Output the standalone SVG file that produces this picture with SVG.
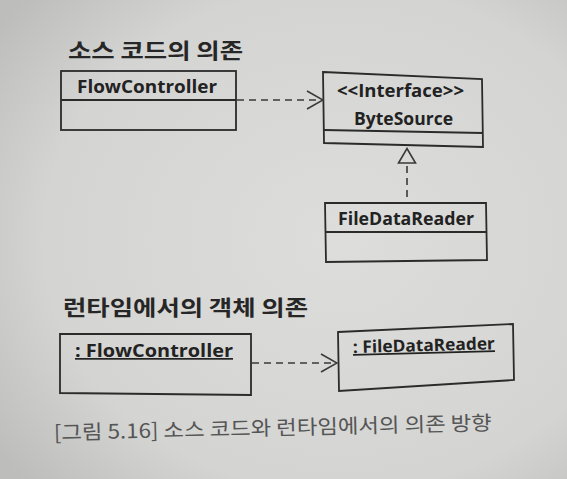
<svg xmlns="http://www.w3.org/2000/svg" width="567" height="479" viewBox="0 0 567 479">
  <defs>
    <radialGradient id="paper" cx="0.6" cy="0.5" r="0.75">
      <stop offset="0" stop-color="#dddddb"/>
      <stop offset="0.7" stop-color="#d4d4d2"/>
      <stop offset="1" stop-color="#bdbdbb"/>
    </radialGradient>
    <marker id="open" viewBox="0 0 18 20" refX="17" refY="10" markerWidth="18" markerHeight="20" markerUnits="userSpaceOnUse" orient="auto">
      <path d="M1,1 L17,10 L1,19" fill="none" stroke="#3a3a3a" stroke-width="1.6" stroke-dasharray="none"/>
    </marker>
    <marker id="tri" viewBox="0 0 17 20" refX="1" refY="10" markerWidth="17" markerHeight="20" markerUnits="userSpaceOnUse" orient="auto">
      <path d="M1,1.5 L15.5,10 L1,18.5 Z" fill="none" stroke="#3a3a3a" stroke-width="1.6" stroke-dasharray="none"/>
    </marker>
  </defs>
  <style>
    .box { fill: none; stroke: #2b2b2b; stroke-width: 1.8; stroke-linejoin: miter; }
    .lbl { font-family: "Open Sans", "Noto Sans", "Liberation Sans", sans-serif; font-weight: 700; font-size: 17px; fill: #222; }
    .ko { font-family: "Noto Sans CJK KR", "Noto Sans", sans-serif; font-weight: 700; font-size: 21px; fill: #262626; }
    .cap { font-family: "Noto Sans CJK KR", "Noto Sans", sans-serif; font-weight: 400; font-size: 20px; fill: #555; }
    .dep { fill: none; stroke: #3a3a3a; stroke-width: 1.6; stroke-dasharray: 7 5; }
  </style>

  <rect x="0" y="0" width="567" height="479" fill="url(#paper)"/>

  <text id="title-source" class="ko" x="68" y="58" textLength="175" lengthAdjust="spacingAndGlyphs">소스 코드의 의존</text>

  <g id="FlowController">
    <rect class="box" x="61" y="71" width="175" height="59"/>
    <line class="box" x1="61" y1="100" x2="236" y2="100"/>
    <text class="lbl" x="77" y="93" textLength="140" lengthAdjust="spacingAndGlyphs">FlowController</text>
  </g>

  <g id="ByteSource">
    <polygon class="box" points="323,72 482,79 483,147 324,143"/>
    <line class="box" x1="324" y1="130" x2="483" y2="133"/>
    <text class="lbl" x="337" y="97" textLength="127" lengthAdjust="spacingAndGlyphs">&lt;&lt;Interface&gt;&gt;</text>
    <text class="lbl" x="354" y="125" textLength="99" lengthAdjust="spacingAndGlyphs">ByteSource</text>
  </g>

  <g id="FileDataReader">
    <polygon class="box" points="325,203 486,203 487,260 326,262"/>
    <line class="box" x1="325" y1="232" x2="486" y2="232"/>
    <text class="lbl" x="338" y="225" textLength="136" lengthAdjust="spacingAndGlyphs">FileDataReader</text>
  </g>

  <text id="title-runtime" class="ko" x="63" y="315" textLength="245" lengthAdjust="spacingAndGlyphs">런타임에서의 객체 의존</text>

  <g id="FlowControllerObj">
    <polygon class="box" points="60,334 251,334 251,395 60,393"/>
    <text class="lbl" x="75" y="357" textLength="158" lengthAdjust="spacingAndGlyphs" text-decoration="underline">: FlowController</text>
  </g>

  <g id="FileDataReaderObj">
    <polygon class="box" points="338,332 513,324 514,380 339,391"/>
    <text class="lbl" x="353" y="353" textLength="142" lengthAdjust="spacingAndGlyphs" text-decoration="underline" transform="rotate(-1.5 353 353)">: FileDataReader</text>
  </g>

  <g id="connectors">
    <line class="dep" x1="237" y1="100" x2="323" y2="100" marker-end="url(#open)"/>
    <line class="dep" x1="407" y1="197" x2="407" y2="163" marker-end="url(#tri)"/>
    <line class="dep" x1="252" y1="363" x2="337" y2="363" marker-end="url(#open)"/>
  </g>

  <text id="caption" class="cap" x="54" y="440" textLength="438" lengthAdjust="spacingAndGlyphs" transform="rotate(-1.3 54 440)">[그림 5.16] 소스 코드와 런타임에서의 의존 방향</text>
</svg>
